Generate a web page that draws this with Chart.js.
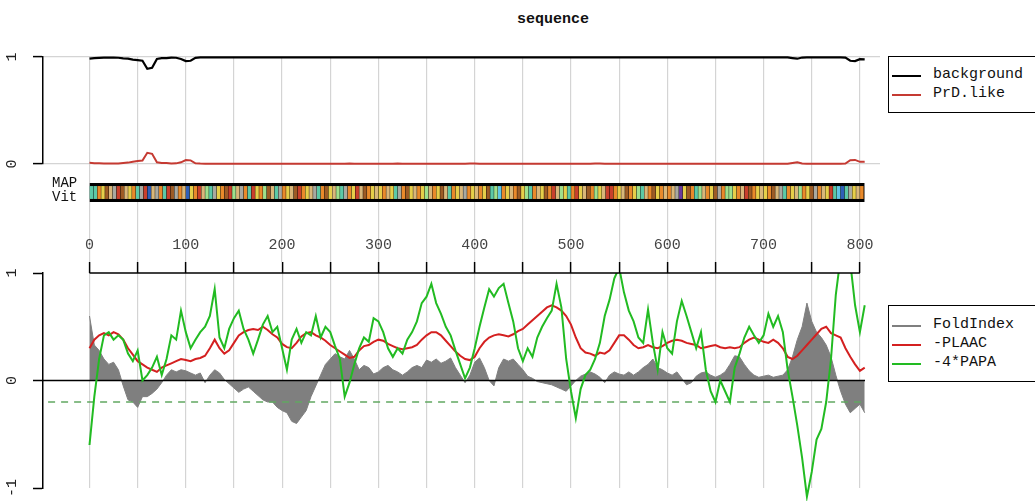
<!DOCTYPE html>
<html><head><meta charset="utf-8">
<script src="https://cdn.jsdelivr.net/npm/chart.js@4.4.1/dist/chart.umd.min.js"></script>
<style>
html,body{margin:0;padding:0;background:#fff;width:1035px;height:501px;overflow:hidden;}
canvas{position:absolute;left:0;}
.t{position:absolute;font-family:"Liberation Mono","DejaVu Sans Mono",monospace;color:#111;white-space:nowrap;}
.box{position:absolute;border:1.5px solid #000;background:#fff;overflow:hidden;}
.box .ln{position:absolute;left:3px;width:29px;height:2px;}
.box .tx{position:absolute;left:44px;font-family:"Liberation Mono",monospace;font-size:15px;line-height:18px;color:#111;white-space:nowrap;}
</style></head>
<body>
<div class="t" style="left:517px;top:11px;font-size:15px;font-weight:bold;line-height:18px;">sequence</div>
<canvas id="cStrip" width="1035" height="98" style="top:164px;width:1035px;height:98px"></canvas>
<canvas id="cTop" width="1035" height="189" style="top:0;width:1035px;height:189px"></canvas>
<canvas id="cBot" width="1035" height="279" style="top:230px;width:1035px;height:279px"></canvas>
<div class="t" style="left:52px;top:176px;font-size:14px;line-height:14px;">MAP</div>
<div class="t" style="left:52px;top:190px;font-size:14px;line-height:14px;">Vit</div>
<div class="box" style="left:888px;top:56px;width:160px;height:55px;">
  <div class="ln" style="top:18px;background:#000"></div><div class="tx" style="top:9px">background</div>
  <div class="ln" style="top:37px;background:#c53a32"></div><div class="tx" style="top:28px">PrD.like</div>
</div>
<div class="box" style="left:888px;top:305px;width:160px;height:75px;">
  <div class="ln" style="top:19px;background:#7f7f7f"></div><div class="tx" style="top:10px">FoldIndex</div>
  <div class="ln" style="top:38px;background:#d42020"></div><div class="tx" style="top:29px">-PLAAC</div>
  <div class="ln" style="top:57px;background:#22bb22"></div><div class="tx" style="top:48px">-4*PAPA</div>
</div>
<script>
// ---------- data ----------
const residues = [
0,5,10,15,20,25,30,35,40,45,
50,55,60,65,70,75,80,85,90,95,
100,105,110,115,120,125,130,135,140,145,
150,155,160,165,170,175,180,185,190,195,
200,205,210,215,220,225,230,235,240,245,
250,255,260,265,270,275,280,285,290,295,
300,305,310,315,320,325,330,335,340,345,
350,355,360,365,370,375,380,385,390,395,
400,405,410,415,420,425,430,435,440,445,
450,455,460,465,470,475,480,485,490,495,
500,505,510,515,520,525,530,535,540,545,
550,555,560,565,570,575,580,585,590,595,
600,605,610,615,620,625,630,635,640,645,
650,655,660,665,670,675,680,685,690,695,
700,705,710,715,720,725,730,735,740,745,
750,755,760,765,770,775,780,785,790,795,
800,805];

const background = [
0.985,0.99,0.992,0.994,0.994,0.994,0.993,0.988,0.985,0.975,
0.97,0.965,0.89,0.9,0.982,0.99,0.99,0.995,0.993,0.982,
0.962,0.965,0.992,0.996,0.997,0.997,0.997,0.997,0.997,0.997,
0.997,0.997,0.997,0.997,0.997,0.997,0.997,0.997,0.997,0.997,
0.997,0.997,0.997,0.997,0.997,0.997,0.997,0.997,0.997,0.997,
0.997,0.997,0.997,0.997,0.996,0.997,0.997,0.997,0.997,0.997,
0.997,0.997,0.997,0.997,0.996,0.997,0.997,0.997,0.997,0.997,
0.997,0.997,0.997,0.997,0.997,0.997,0.997,0.997,0.997,0.996,
0.996,0.997,0.997,0.997,0.997,0.997,0.997,0.997,0.997,0.997,
0.997,0.997,0.997,0.997,0.997,0.997,0.997,0.997,0.997,0.997,
0.997,0.997,0.997,0.997,0.997,0.996,0.996,0.997,0.997,0.997,
0.997,0.997,0.997,0.997,0.997,0.997,0.997,0.997,0.997,0.997,
0.997,0.997,0.997,0.997,0.997,0.997,0.997,0.997,0.997,0.997,
0.997,0.997,0.997,0.997,0.997,0.997,0.997,0.997,0.997,0.997,
0.997,0.997,0.997,0.997,0.997,0.997,0.99,0.984,0.995,0.997,
0.997,0.997,0.997,0.997,0.997,0.997,0.997,0.995,0.965,0.962,
0.98,0.978];

const prdLike = [
0.012,0.008,0.006,0.004,0.004,0.004,0.005,0.01,0.013,0.022,
0.027,0.032,0.105,0.095,0.016,0.01,0.009,0.005,0.006,0.016,
0.037,0.034,0.007,0.004,0.003,0.003,0.003,0.003,0.003,0.003,
0.003,0.003,0.003,0.003,0.003,0.003,0.003,0.003,0.003,0.003,
0.003,0.003,0.003,0.003,0.003,0.003,0.003,0.003,0.003,0.003,
0.003,0.003,0.003,0.003,0.004,0.003,0.003,0.003,0.003,0.003,
0.003,0.003,0.003,0.003,0.004,0.003,0.003,0.003,0.003,0.003,
0.003,0.003,0.003,0.003,0.003,0.003,0.003,0.003,0.003,0.004,
0.004,0.003,0.003,0.003,0.003,0.003,0.003,0.003,0.003,0.003,
0.003,0.003,0.003,0.003,0.003,0.003,0.003,0.003,0.003,0.003,
0.003,0.003,0.003,0.003,0.003,0.005,0.004,0.003,0.003,0.003,
0.003,0.003,0.003,0.003,0.003,0.003,0.003,0.003,0.003,0.003,
0.003,0.003,0.003,0.003,0.003,0.003,0.003,0.003,0.003,0.003,
0.003,0.003,0.003,0.003,0.003,0.003,0.003,0.003,0.003,0.003,
0.003,0.003,0.003,0.003,0.003,0.003,0.01,0.016,0.005,0.003,
0.003,0.003,0.003,0.003,0.003,0.003,0.003,0.005,0.036,0.038,
0.02,0.022];

const foldIndex = [
0.6,0.33,0.28,0.2,0.15,0.17,0.1,-0.05,-0.18,-0.2,
-0.25,-0.15,-0.15,-0.12,-0.08,-0.02,0.05,0.1,0.08,0.1,
0.09,0.07,0.05,0.07,-0.02,0.05,0.1,0.07,0.01,-0.03,
-0.07,-0.11,-0.08,-0.06,-0.1,-0.14,-0.18,-0.2,-0.2,-0.25,
-0.28,-0.3,-0.38,-0.4,-0.34,-0.28,-0.15,-0.05,0.05,0.15,
0.2,0.25,0.22,0.2,0.28,0.2,0.1,0.14,0.12,0.06,
0.08,0.12,0.14,0.1,0.08,0.05,0.08,0.12,0.14,0.12,
0.19,0.17,0.2,0.16,0.18,0.21,0.12,0.05,-0.02,0.05,
0.17,0.21,0.12,0.0,-0.05,0.12,0.2,0.18,0.2,0.15,
0.1,0.04,0.02,-0.01,-0.02,-0.03,-0.04,-0.06,-0.08,-0.1,
-0.05,0.0,0.04,0.06,0.08,0.06,0.03,-0.02,0.05,0.08,
0.06,0.05,0.08,0.05,0.08,0.12,0.15,0.2,0.12,0.1,
0.07,0.05,0.08,0.02,-0.04,-0.02,0.04,0.07,0.08,0.05,
0.03,0.05,0.08,0.15,0.23,0.22,0.15,0.09,0.05,0.03,
0.04,0.05,0.03,0.04,0.05,0.1,0.22,0.38,0.5,0.72,
0.55,0.45,0.4,0.33,0.22,0.05,-0.1,-0.22,-0.3,-0.26,
-0.22,-0.3];

const negPlaac = [
0.3,0.38,0.42,0.44,0.42,0.45,0.43,0.38,0.3,0.24,
0.18,0.15,0.12,0.1,0.08,0.12,0.14,0.16,0.18,0.2,
0.19,0.18,0.2,0.21,0.23,0.3,0.38,0.3,0.25,0.28,
0.35,0.42,0.45,0.47,0.48,0.47,0.5,0.47,0.43,0.4,
0.34,0.31,0.3,0.35,0.41,0.44,0.45,0.42,0.4,0.37,
0.33,0.3,0.27,0.24,0.21,0.22,0.28,0.32,0.33,0.36,
0.38,0.37,0.34,0.32,0.3,0.29,0.3,0.31,0.33,0.38,
0.42,0.45,0.45,0.42,0.37,0.32,0.27,0.23,0.2,0.19,
0.22,0.3,0.36,0.4,0.42,0.43,0.42,0.41,0.43,0.46,
0.48,0.52,0.56,0.6,0.64,0.68,0.7,0.68,0.65,0.6,
0.52,0.4,0.3,0.26,0.25,0.23,0.26,0.25,0.28,0.35,
0.42,0.42,0.38,0.33,0.3,0.31,0.33,0.31,0.3,0.32,
0.35,0.37,0.38,0.37,0.35,0.34,0.33,0.3,0.31,0.32,
0.33,0.31,0.3,0.31,0.3,0.31,0.35,0.38,0.4,0.38,
0.36,0.35,0.38,0.35,0.3,0.22,0.2,0.23,0.28,0.33,
0.38,0.43,0.48,0.5,0.44,0.42,0.4,0.3,0.22,0.15,
0.09,0.12];

const negPapa = [
-0.6,-0.15,0.2,0.42,0.45,0.38,0.42,0.38,0.25,0.18,
0.28,0.0,0.05,0.12,0.22,0.05,0.2,0.42,0.38,0.65,
0.45,0.3,0.38,0.45,0.5,0.6,0.85,0.4,0.3,0.48,
0.58,0.65,0.48,0.38,0.25,0.38,0.52,0.6,0.45,0.5,
0.3,0.1,0.38,0.48,0.35,0.45,0.42,0.6,0.4,0.5,
0.45,0.32,0.2,-0.15,-0.02,0.15,0.3,0.4,0.36,0.58,
0.55,0.45,0.3,0.22,0.3,0.25,0.38,0.45,0.55,0.72,
0.78,0.9,0.72,0.62,0.5,0.42,0.28,0.15,0.02,0.12,
0.3,0.5,0.68,0.85,0.78,0.86,0.9,0.72,0.55,0.3,
0.18,0.3,0.22,0.4,0.5,0.58,0.65,0.9,0.68,0.2,
-0.1,-0.35,-0.08,0.05,0.1,0.2,0.35,0.6,0.75,0.95,
1.05,0.82,0.65,0.55,0.4,0.35,0.66,0.35,0.1,0.45,
0.3,0.25,0.55,0.74,0.6,0.45,0.3,0.45,0.1,-0.1,
-0.2,0.0,-0.1,-0.2,0.12,0.25,0.4,0.5,0.42,0.35,
0.42,0.62,0.5,0.6,0.45,0.1,-0.15,-0.42,-0.72,-1.08,
-0.85,-0.55,-0.45,-0.2,0.2,0.8,1.15,1.2,1.1,0.7,
0.45,0.7];

const papaThreshold = -0.2;
const zeroLevel = 0;

const gridTicks = [0,50,100,150,200,250,300,350,400,450,500,550,600,650,700,750,800];
const labelTicks = [0,100,200,300,400,500,600,700,800];
const topYTicks = [0,1];
const botYTicks = [-1,0,1];

// residue colour strip (each letter = one 4-residue cell)
const stripCells =
 "ttoybnGrbnyotGrBnGotrbGon" +
 "ByorngtGyobrgnGotryogbntG" +
 "oynbroynGtobyngtGoyrnboyn" +
 "yonytGobynoygnoybntoynGoy" +
 "noybtgcoynobygtonyborngyt" +
 "orynbogynrroynboygtnobyon" +
 "onGpybotgnoybGoggyonrboyn" +
 "yobnGtoyngoybGonyrtcBtGyno";
const cellSize = 4;
const stripPalette = {t:'#5cc9a7',o:'#e98a2b',y:'#e6cf4a',b:'#9c5b25',n:'#d9b77a',G:'#a9a9a0',
  r:'#c9402c',B:'#2f5fb8',g:'#9fe08c',c:'#5fc6e6',p:'#6a3a9c'};
const stripStart = 0, stripEnd = 805;

// ---------- layout constants ----------
const X_MIN = -48.29;          // shared x scale origin (px 43)
const X_MAX_TOP = 820.9;       // px 880
const X_MAX_BOT = 805.3;       // px 865
const FONT = "'Liberation Mono','DejaVu Sans Mono',monospace";

const pts = arr => residues.map((r,i)=>({x:r,y:arr[i]}));

const xGridOnly = (max) => ({
  type:'linear', min:X_MIN, max:max, position:'bottom',
  afterBuildTicks: s => { s.ticks = gridTicks.map(v=>({value:v})); },
  afterFit: s => { s.height = 0; },
  ticks:{display:false},
  grid:{color:'#d4d4d4', lineWidth:1.2, drawTicks:false},
  border:{display:false}
});

Chart.defaults.font.family = FONT;
Chart.defaults.animation = false;

// ---------- top panel ----------
new Chart(document.getElementById('cTop'), {
  type:'line',
  data:{datasets:[
    {label:'background', data:pts(background), borderColor:'#000', borderWidth:2.2, pointRadius:0, clip:false, order:2},
    {label:'PrD.like', data:pts(prdLike), borderColor:'#c53a32', borderWidth:2, pointRadius:0, clip:false, order:1}
  ]},
  options:{
    responsive:false, maintainAspectRatio:false,
    layout:{padding:{top:57,bottom:6,left:0,right:155}},
    plugins:{legend:{display:false}, tooltip:{enabled:false}},
    scales:{
      x: xGridOnly(X_MAX_TOP),
      y:{type:'linear', min:0, max:1, position:'left',
        afterBuildTicks: s => { s.ticks = topYTicks.map(v=>({value:v})); },
        afterFit: s => { s.width = 43; },
        ticks:{color:'#222', font:{size:15}, minRotation:90, maxRotation:90, crossAlign:'center', padding:16},
        grid:{color:'#d4d4d4', lineWidth:1.2, tickColor:'#000', tickLength:10, tickWidth:1.5},
        border:{display:true, color:'#000', width:1.5}
      }
    }
  }
});

// ---------- colour strip ----------
const cellData = stripCells.split('').map((ch,i)=>({x:i*cellSize+cellSize/2, y:[0.16,0.84]}));
const cellColors = stripCells.split('').map(ch=>stripPalette[ch]);
new Chart(document.getElementById('cStrip'), {
  type:'bar',
  data:{datasets:[
    {type:'bar', label:'cells', data:cellData, backgroundColor:cellColors, borderWidth:0,
     barPercentage:0.9, categoryPercentage:1, order:1},
    {type:'line', label:'band', data:[{x:stripStart,y:1},{x:stripEnd,y:1}], fill:{value:0},
     backgroundColor:'#000', borderColor:'#000', borderWidth:0, pointRadius:0, order:2}
  ]},
  options:{
    responsive:false, maintainAspectRatio:false,
    layout:{padding:{top:0,bottom:0,left:43,right:155}},
    plugins:{legend:{display:false}, tooltip:{enabled:false}},
    scales:{
      x: Object.assign(xGridOnly(X_MAX_TOP), {offset:false, grid:{color:'#d4d4d4', lineWidth:1.2, drawTicks:false, offset:false}}),
      y:{type:'linear', min:-3.158, max:2, display:false}
    }
  }
});

// ---------- bottom panel ----------
const axisLinePlugin = {
  id:'rAxisLine',
  afterDraw(chart){
    const s = chart.scales.x, ctx = chart.ctx;
    ctx.save();
    ctx.strokeStyle = '#000'; ctx.lineWidth = 1.5;
    ctx.beginPath();
    ctx.moveTo(s.getPixelForValue(gridTicks[0]), s.bottom);
    ctx.lineTo(s.getPixelForValue(gridTicks[gridTicks.length-1]), s.bottom);
    ctx.stroke();
    ctx.restore();
  }
};
const noClipBelow = {left:false, top:0, right:false, bottom:false};
new Chart(document.getElementById('cBot'), {
  type:'line',
  data:{datasets:[
    {label:'-4*PAPA', data:pts(negPapa), borderColor:'#22bb22', borderWidth:2, pointRadius:0, clip:noClipBelow, order:1},
    {label:'-PLAAC', data:pts(negPlaac), borderColor:'#d42020', borderWidth:2, pointRadius:0, clip:noClipBelow, order:2},
    {label:'threshold', data:[{x:-43,y:papaThreshold},{x:805,y:papaThreshold}], borderColor:'#62a862', borderWidth:1.6,
     borderDash:[7,6], pointRadius:0, order:3},
    {label:'zero', data:[{x:X_MIN,y:zeroLevel},{x:X_MAX_BOT,y:zeroLevel}], borderColor:'#000', borderWidth:1.6, pointRadius:0, order:4},
    {label:'FoldIndex', data:pts(foldIndex), borderColor:'#7f7f7f', backgroundColor:'#7f7f7f', borderWidth:1,
     fill:'origin', pointRadius:0, clip:noClipBelow, order:5}
  ]},
  plugins:[axisLinePlugin],
  options:{
    responsive:false, maintainAspectRatio:false,
    layout:{padding:{top:0,bottom:4,left:0,right:170}},
    plugins:{legend:{display:false}, tooltip:{enabled:false}},
    scales:{
      x:{type:'linear', min:X_MIN, max:X_MAX_BOT, position:'top',
        afterBuildTicks: s => { s.ticks = gridTicks.map(v=>({value:v})); },
        afterFit: s => { s.height = 43; },
        ticks:{autoSkip:false, maxRotation:0, minRotation:0, color:'#444', font:{size:15}, padding:8,
          callback: v => labelTicks.includes(v) ? String(v) : ''},
        grid:{color:'#d4d4d4', lineWidth:1.2, tickColor:'#000', tickLength:11, tickWidth:1.5},
        border:{display:false}
      },
      y:{type:'linear', min:-1, max:1, position:'left',
        afterBuildTicks: s => { s.ticks = botYTicks.map(v=>({value:v})); },
        afterFit: s => { s.width = 43; },
        ticks:{color:'#222', font:{size:15}, minRotation:90, maxRotation:90, crossAlign:'center', padding:12},
        grid:{drawOnChartArea:false, tickColor:'#000', tickLength:10, tickWidth:1.5},
        border:{display:true, color:'#000', width:1.5}
      }
    }
  }
});
</script>
</body></html>
